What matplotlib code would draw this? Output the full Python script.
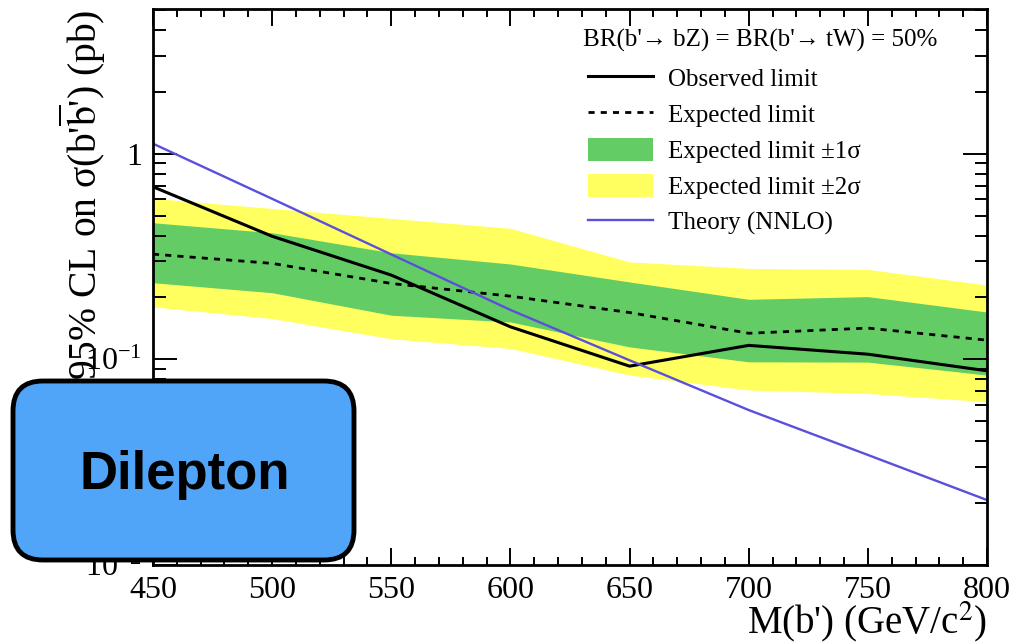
import matplotlib
matplotlib.use("Agg")
import matplotlib.pyplot as plt
from matplotlib.lines import Line2D
from matplotlib.patches import Patch, FancyBboxPatch
from matplotlib.ticker import FixedLocator, FuncFormatter, LogLocator, MultipleLocator
from matplotlib.transforms import IdentityTransform

plt.rcParams['font.family'] = ['Liberation Serif', 'DejaVu Serif']
plt.rcParams['mathtext.fontset'] = 'stix'

# b' mass points (GeV/c^2)
mass = [450, 500, 550, 600, 650, 700, 750, 800]

# 95% CL limits (pb)
observed = [0.691, 0.397, 0.257, 0.144, 0.0927, 0.117, 0.106, 0.088]
expected = [0.325, 0.293, 0.234, 0.203, 0.169, 0.134, 0.142, 0.124]
exp_1s_up = [0.462, 0.413, 0.330, 0.291, 0.238, 0.196, 0.202, 0.170]
exp_1s_dn = [0.236, 0.211, 0.164, 0.152, 0.115, 0.0973, 0.097, 0.0839]
exp_2s_up = [0.607, 0.542, 0.485, 0.434, 0.298, 0.277, 0.274, 0.230]
exp_2s_dn = [0.180, 0.158, 0.126, 0.113, 0.0839, 0.071, 0.0683, 0.0622]
theory = [1.12, 0.604, 0.324, 0.174, 0.099, 0.0567, 0.0343, 0.0207]

c_green = '#64cc64'
c_yellow = '#ffff60'
c_blue = '#5a50dc'

fig = plt.figure(figsize=(10.32, 6.44), dpi=100)
ax = fig.add_axes([153 / 1032, 1 - 565 / 644, (987 - 153) / 1032, (565 - 9) / 644])

ax.fill_between(mass, exp_2s_dn, exp_2s_up, color=c_yellow, lw=0)
ax.fill_between(mass, exp_1s_dn, exp_1s_up, color=c_green, lw=0)
ax.plot(mass, expected, color='black', ls=(0, (2.2, 2.2)), lw=2.0)
ax.plot(mass, observed, color='black', lw=2.2)
ax.plot(mass, theory, color=c_blue, lw=1.7)

ax.set_yscale('log')
ax.set_xlim(450, 800)
ax.set_ylim(0.01, 5.06)

ax.xaxis.set_major_locator(MultipleLocator(50))
ax.xaxis.set_minor_locator(MultipleLocator(10))
ax.yaxis.set_major_locator(FixedLocator([0.01, 0.1, 1]))
ax.yaxis.set_minor_locator(LogLocator(base=10, subs=range(2, 10)))
ylabels = {0.01: r'$\mathregular{10^{-2}}$', 0.1: r'$\mathregular{10^{-1}}$', 1: '1'}
ax.yaxis.set_major_formatter(FuncFormatter(lambda v, p: ylabels.get(round(v, 3), '')))

ax.tick_params(which='both', direction='in', top=True, right=True, width=1.4,
               labelsize=23, pad=8)
ax.tick_params(axis='x', which='major', length=12)
ax.tick_params(axis='x', which='minor', length=6)
ax.tick_params(axis='y', which='major', length=17)
ax.tick_params(axis='y', which='minor', length=9)
for s in ax.spines.values():
    s.set_linewidth(2)

fig.text(987 / 1032, 1 - 622 / 644, r"M(b') (GeV/c$^{2}$)", ha='right', va='center', fontsize=28)
fig.text(82 / 1032, 1 - 10 / 644, r"95% CL on σ(b'$\overline{\mathrm{b}}$') (pb)",
         rotation=90, ha='center', va='top', fontsize=28.5)

# legend header
fig.text(583 / 1032, 1 - 40 / 644, "BR(b'\u2192 bZ) = BR(b'\u2192 tW) = 50%",
         ha='left', va='center', fontsize=18)

handles = [
    Line2D([], [], color='black', lw=2.2),
    Line2D([], [], color='black', ls=(0, (2.2, 2.2)), lw=2.0),
    Patch(facecolor=c_green, lw=0),
    Patch(facecolor=c_yellow, lw=0),
    Line2D([], [], color=c_blue, lw=1.7),
]
labels = ['Observed limit', 'Expected limit', 'Expected limit \u00b11\u03c3',
          'Expected limit \u00b12\u03c3', 'Theory (NNLO)']
leg = ax.legend(handles, labels, loc='upper left',
                bbox_to_anchor=(588 / 1032, 1 - 66 / 644),
                bbox_transform=fig.transFigure, frameon=False, fontsize=18,
                handlelength=2.6, handleheight=1.05, labelspacing=0.43,
                handletextpad=0.6, borderpad=0, borderaxespad=0)

box = FancyBboxPatch((13, 84), 341, 179, boxstyle='round,pad=0,rounding_size=30',
                     transform=IdentityTransform(), facecolor='#50a5f8',
                     edgecolor='black', lw=3.5, zorder=10)
fig.add_artist(box)
fig.text(185 / 1032, 1 - 470 / 644, 'Dilepton', ha='center', va='center_baseline',
         fontsize=38, fontweight='bold', family=['Liberation Sans', 'DejaVu Sans'], zorder=11)

fig.savefig('out.png', dpi=100)
